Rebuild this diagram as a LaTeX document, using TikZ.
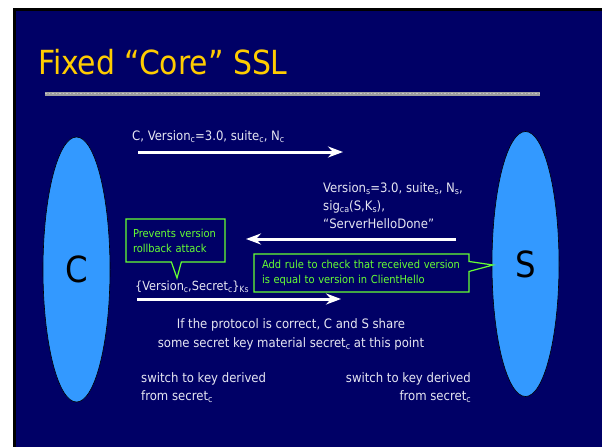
\documentclass[tikz,border=0pt]{standalone}
\usepackage{fontspec}
\setmainfont{DejaVu Sans Condensed}
\usetikzlibrary{arrows.meta,shapes.callouts,shapes.geometric}

\definecolor{slidebg}{HTML}{000066}
\definecolor{partyfill}{HTML}{3399FF}
\definecolor{titlegold}{HTML}{FFCC00}
\definecolor{msgtext}{HTML}{E6E6F2}
\definecolor{notegreen}{HTML}{66FF33}

% small lowered index, as in Version_c
\newcommand\idx[1]{\raisebox{-0.4ex}{\scalebox{0.68}{#1}}}

\tikzset{
  party/.style={ellipse, draw=black, line width=0.6pt, fill=partyfill,
    minimum width=67pt, minimum height=265pt, inner sep=0pt,
    font=\fontsize{36}{36}\selectfont},
  msg/.style={text=msgtext, font=\fontsize{13}{18}\selectfont, inner sep=0pt},
  flow/.style={draw=white, line width=3pt,
    -{Stealth[length=15pt,width=11pt,inset=5pt]}},
  note/.style={rectangle callout, draw=notegreen, line width=1.2pt, fill=slidebg,
    text=notegreen, font=\fontsize{11}{15}\selectfont, align=left,
    callout pointer width=10pt, inner ysep=0pt},
}

\begin{document}
\begin{tikzpicture}[x=1pt,y=-1pt]
  \useasboundingbox (0,0) rectangle (602,447);
  % slide frame with its drop edge
  \fill[white] (0,0) rectangle (602,447);
  \fill[black] (13,8) rectangle (602,447);
  \fill[slidebg] (16,11) rectangle (602,447);

  % title and its textured rule
  \node[anchor=base west, text=titlegold, inner sep=0pt,
        font=\fontsize{33.2}{34}\selectfont] (title) at (38,74) {Fixed “Core” SSL};
  \fill[gray!75] (45,92) rectangle (540,95.5);
  \draw[gray!45, line width=1.2pt, dash pattern=on 1.5pt off 2pt] (45,93.7) -- (540,93.7);

  % the two parties
  \node[party] (C) at (76.5,269.5) {C};
  \node[party] (S) at (525.5,264) {S};

  % message 1: client hello
  \node[msg, anchor=base west] (m1) at (132,140)
    {C, Version\idx{c}=3.0, suite\idx{c}, N\idx{c}};
  \coordinate (a1s) at (138,152);
  \coordinate (a1e) at (343,152);
  \draw[flow] (a1s) -- (a1e);

  % message 2: server hello
  \node[msg, anchor=base west] (m2a) at (323,192)
    {Version\idx{s}=3.0, suite\idx{s}, N\idx{s},};
  \node[msg, anchor=base west] (m2b) at (323,210)
    {sig\idx{ca}(S,K\idx{s}),};
  \node[msg, anchor=base west] (m2c) at (323,228)
    {“ServerHelloDone”};
  \coordinate (a2s) at (456,239);
  \coordinate (a2e) at (246,239);
  \draw[flow] (a2s) -- (a2e);

  % message 3: encrypted version and secret
  \node[msg, anchor=base west, font=\fontsize{12.6}{18}\selectfont] (m3) at (135,290)
    {\{Version\idx{c},Secret\idx{c}\}\idx{Ks}};
  \coordinate (a3s) at (137,299);
  \coordinate (a3e) at (341,299);
  \draw[flow] (a3s) -- (a3e);

  % annotations
  \coordinate (tip1) at (177,278);
  \node[note, callout absolute pointer={(tip1)}, minimum width=99pt,
        minimum height=43pt, text width=85pt, inner xsep=7pt] (n1)
        at (175.5,240.5) {Prevents version\\rollback attack};
  \coordinate (tip2) at (493,265);
  \node[note, callout absolute pointer={(tip2)}, minimum width=215pt,
        minimum height=38pt, text width=199pt, inner xsep=8pt] (n2)
        at (361.5,273) {Add rule to check that received version\\is equal to version in ClientHello};

  % closing remarks
  \node[msg, anchor=base] (sh1) at (291,328)
    {If the protocol is correct, C and S share};
  \node[msg, anchor=base] (sh2) at (291,347)
    {some secret key material secret\idx{c} at this point};
  \node[msg, anchor=base west] (swc1) at (141,382) {switch to key derived};
  \node[msg, anchor=base west] (swc2) at (141,400) {from secret\idx{c}};
  \node[msg, anchor=base east] (sws1) at (471,382) {switch to key derived};
  \node[msg, anchor=base east] (sws2) at (471,400) {from secret\idx{c}};
\end{tikzpicture}
\end{document}
